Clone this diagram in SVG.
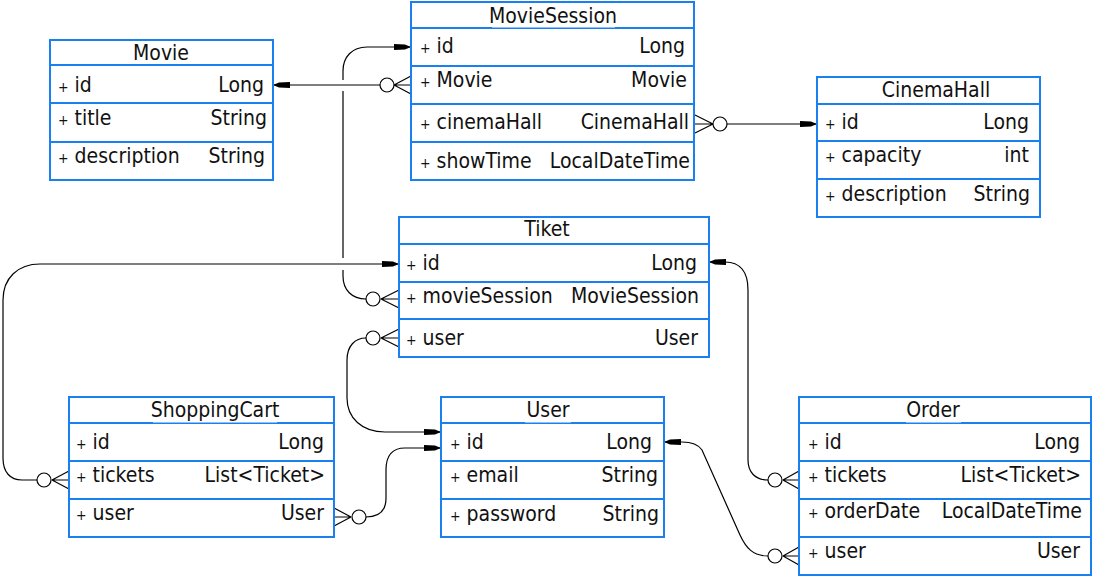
<svg xmlns="http://www.w3.org/2000/svg" width="1094" height="578" viewBox="0 0 1094 578">
<style>
.box{fill:#fff;stroke:#1a7ff0;stroke-width:2}
.div{stroke:#1a7ff0;stroke-width:2}
text{font-family:"DejaVu Sans Condensed","DejaVu Sans",sans-serif;font-stretch:condensed;font-size:21px;fill:#111}
.t{text-anchor:middle}
.r{text-anchor:end}
.p{font-size:14px}
.c{fill:none;stroke:#000;stroke-width:1.2}
.o{fill:#fff;stroke:#000;stroke-width:1.2}
.gap{fill:#fff}
</style>
<defs>
<marker id="arr" markerUnits="userSpaceOnUse" markerWidth="20" markerHeight="10" viewBox="-18 -5 20 10" refX="0" refY="0" orient="auto">
<path d="M0,0 L-6,-2.5 L-17,-3 L-17,3 L-6,2.5 z" fill="#000"/>
</marker>
</defs>

<g id="connectors">
<path class="c" d="M380 85 L273 85" marker-end="url(#arr)"/>
<path class="c" d="M366 299 C352 299 343 290 343 276 L343 270 M343 258 L343 91 M343 80 L343 71 C343 57 352 47 367 47 L411 47" marker-end="url(#arr)"/>
<path class="c" d="M727 124 L817 124" marker-end="url(#arr)"/>
<path class="c" d="M37 480 L22 480 C10 480 3 472 3 458 L3 300 C3 278 18 264 40 264 L399 264" marker-end="url(#arr)"/>
<path class="c" d="M366 517 C380 517 386 510 386 498 L386 470 C386 455 393 448 405 448 L441 448" marker-end="url(#arr)"/>
<path class="c" d="M366 338 C355 338 347 346 347 360 L347 398 C347 418 362 432 385 432 L441 432" marker-end="url(#arr)"/>
<path class="c" d="M768 480 C755 480 748 472 748 460 L748 290 C748 272 740 262 725 262 L709 262" marker-end="url(#arr)"/>
<path class="c" d="M768 556 C753 556 746 548 740 535 L702 450 C698 444 692 442 682 442 L664 442" marker-end="url(#arr)"/>
<path class="c" d="M394 85 L411 76 M394 85 L411 85 M394 85 L411 94"/>
<circle class="o" cx="387" cy="85" r="7"/>
<path class="c" d="M713 124 L695 115 M713 124 L695 124 M713 124 L695 133"/>
<circle class="o" cx="720" cy="124" r="7"/>
<path class="c" d="M381 299 L399 290 M381 299 L399 299 M381 299 L399 308"/>
<circle class="o" cx="373" cy="299" r="7"/>
<path class="c" d="M381 338 L399 329 M381 338 L399 338 M381 338 L399 347"/>
<circle class="o" cx="373" cy="338" r="7"/>
<path class="c" d="M52 480 L69 471 M52 480 L69 480 M52 480 L69 489"/>
<circle class="o" cx="44" cy="480" r="7"/>
<path class="c" d="M351 517 L334 508 M351 517 L334 517 M351 517 L334 526"/>
<circle class="o" cx="359" cy="517" r="7"/>
<path class="c" d="M783 480 L799 471 M783 480 L799 480 M783 480 L799 489"/>
<circle class="o" cx="775" cy="480" r="7"/>
<path class="c" d="M783 556 L799 547 M783 556 L799 556 M783 556 L799 565"/>
<circle class="o" cx="775" cy="556" r="7"/>
</g>

<g id="Movie">
<rect class="box" x="50" y="40" width="223" height="140"/>
<path class="div" d="M50 65 H273 M50 103 H273 M50 142 H273"/>
<text class="t" x="161" y="60">Movie</text>
<text x="58" y="92"><tspan class="p">+</tspan> id</text><text class="r" x="264" y="92">Long</text>
<text x="58" y="125"><tspan class="p">+</tspan> title</text><text class="r" x="267" y="125">String</text>
<text x="58" y="163"><tspan class="p">+</tspan> description</text><text class="r" x="265" y="163">String</text>
</g>

<g id="MovieSession">
<rect class="box" x="411" y="2" width="283" height="178"/>
<path class="div" d="M411 28 H694 M411 66 H694 M411 104 H694 M411 142 H694"/>
<rect class="gap" x="492" y="26" width="123" height="1.5"/>
<text class="t" x="553" y="23">MovieSession</text>
<text x="420" y="53"><tspan class="p">+</tspan> id</text><text class="r" x="685" y="53">Long</text>
<text x="420" y="87"><tspan class="p">+</tspan> Movie</text><text class="r" x="687" y="87">Movie</text>
<text x="420" y="129"><tspan class="p">+</tspan> cinemaHall</text><text class="r" x="689" y="129">CinemaHall</text>
<text x="420" y="168"><tspan class="p">+</tspan> showTime</text><text class="r" x="690" y="168">LocalDateTime</text>
</g>

<g id="CinemaHall">
<rect class="box" x="817" y="77" width="223" height="140"/>
<path class="div" d="M817 104 H1040 M817 141 H1040 M817 179 H1040"/>
<text class="t" x="936" y="97">CinemaHall</text>
<text x="825" y="129"><tspan class="p">+</tspan> id</text><text class="r" x="1029" y="129">Long</text>
<text x="825" y="162"><tspan class="p">+</tspan> capacity</text><text class="r" x="1029" y="162">int</text>
<text x="825" y="201"><tspan class="p">+</tspan> description</text><text class="r" x="1030" y="201">String</text>
</g>

<g id="Tiket">
<rect class="box" x="399" y="217" width="310" height="140"/>
<path class="div" d="M399 244 H709 M399 282 H709 M399 319 H709"/>
<text class="t" x="547" y="236">Tiket</text>
<text x="406" y="270"><tspan class="p">+</tspan> id</text><text class="r" x="697" y="270">Long</text>
<text x="406" y="303"><tspan class="p">+</tspan> movieSession</text><text class="r" x="699" y="303">MovieSession</text>
<text x="406" y="345"><tspan class="p">+</tspan> user</text><text class="r" x="698" y="345">User</text>
</g>

<g id="ShoppingCart">
<rect class="box" x="69" y="397" width="265" height="140"/>
<path class="div" d="M69 423 H334 M69 461 H334 M69 499 H334"/>
<rect class="gap" x="153" y="421" width="124" height="1.5"/>
<text class="t" x="215" y="417">ShoppingCart</text>
<text x="76" y="449"><tspan class="p">+</tspan> id</text><text class="r" x="324" y="449">Long</text>
<text x="76" y="482"><tspan class="p">+</tspan> tickets</text><text class="r" x="325" y="482">List&lt;Ticket&gt;</text>
<text x="76" y="520"><tspan class="p">+</tspan> user</text><text class="r" x="324" y="520">User</text>
</g>

<g id="User">
<rect class="box" x="441" y="397" width="223" height="140"/>
<path class="div" d="M441 423 H664 M441 461 H664 M441 499 H664"/>
<rect class="gap" x="525" y="421" width="46" height="1.5"/>
<text class="t" x="548" y="417">User</text>
<text x="450" y="449"><tspan class="p">+</tspan> id</text><text class="r" x="652" y="449">Long</text>
<text x="450" y="482"><tspan class="p">+</tspan> email</text><text class="r" x="658" y="482">String</text>
<text x="450" y="521"><tspan class="p">+</tspan> password</text><text class="r" x="659" y="521">String</text>
</g>

<g id="Order">
<rect class="box" x="799" y="397" width="292" height="178"/>
<path class="div" d="M799 423 H1091 M799 461 H1091 M799 499 H1091 M799 537 H1091"/>
<rect class="gap" x="906" y="421" width="55" height="1.5"/>
<text class="t" x="933" y="417">Order</text>
<text x="808" y="449"><tspan class="p">+</tspan> id</text><text class="r" x="1080" y="449">Long</text>
<text x="808" y="482"><tspan class="p">+</tspan> tickets</text><text class="r" x="1081" y="482">List&lt;Ticket&gt;</text>
<text x="808" y="518"><tspan class="p">+</tspan> orderDate</text><text class="r" x="1082" y="518">LocalDateTime</text>
<text x="808" y="558"><tspan class="p">+</tspan> user</text><text class="r" x="1080" y="558">User</text>
</g>
</svg>
